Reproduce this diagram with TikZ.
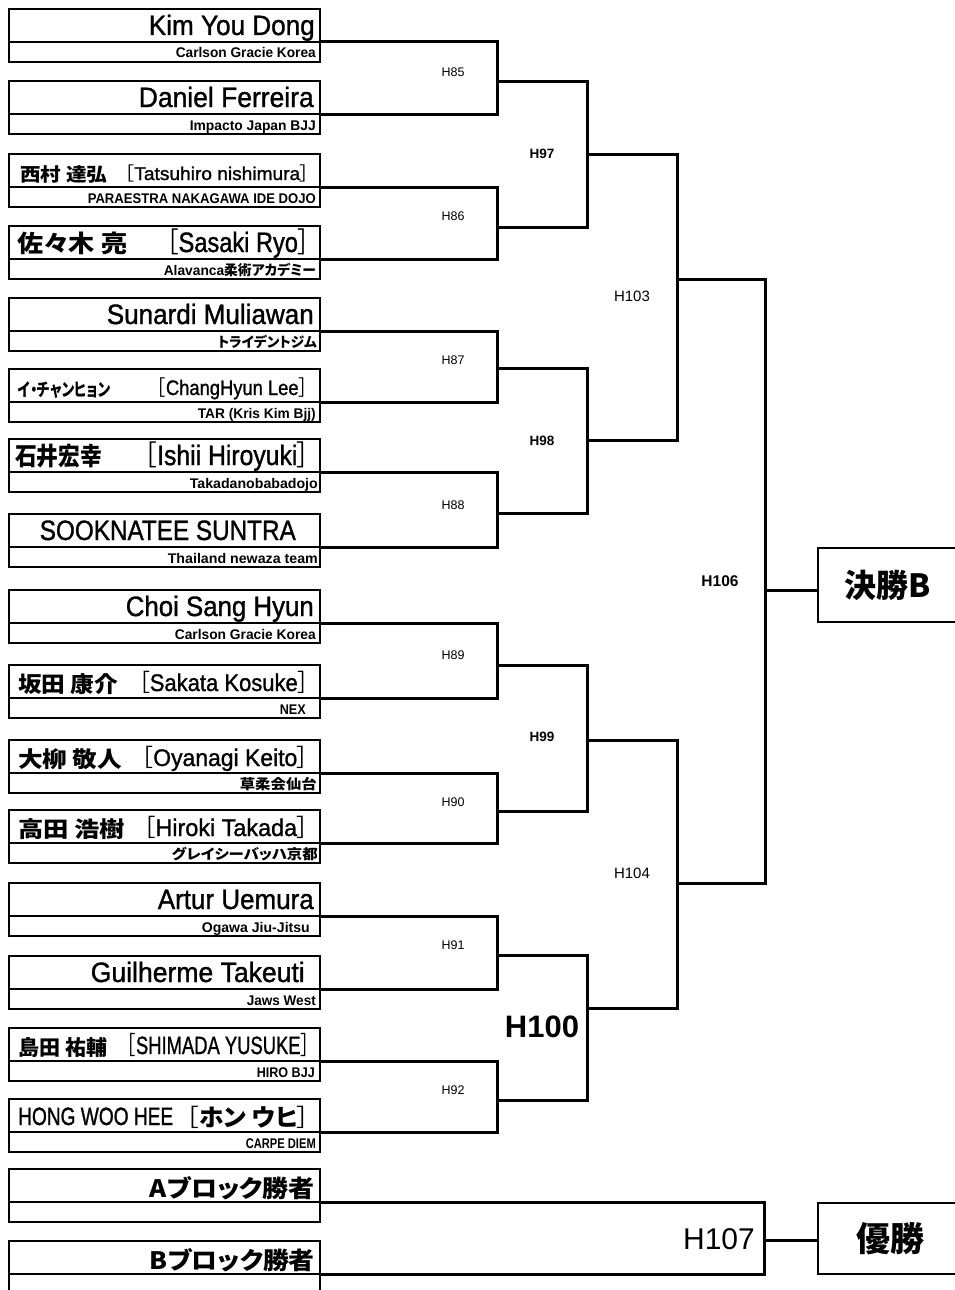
\documentclass[tikz,border=0pt]{standalone}
\usepackage{fontspec}
\usepackage{graphicx}
\setmainfont{Liberation Sans}
\newfontfamily\lat[FakeBold=1.2]{Liberation Sans}
\newfontfamily\jp[RawFeature=+palt]{Noto Sans CJK JP}
\newcommand\fitw[2]{\resizebox{#1pt}{\height}{#2}}
\newcommand\fsz[1]{\fontsize{#1}{#1}\selectfont}
\begin{document}
\begin{tikzpicture}[x=1pt,y=-1pt,
  boxln/.style={line width=2.6pt},
  midln/.style={line width=2.4pt},
  br/.style={line width=3pt, line join=miter},
  nmL/.style={anchor=base east, inner sep=0pt, font=\lat\fsz{28}},
  nmW/.style={anchor=base west, inner sep=0pt},
  nmE/.style={anchor=base east, inner sep=0pt},
  jpn/.style={anchor=base west, inner sep=0pt},
  cl/.style={anchor=base east, inner sep=0pt, font=\bfseries\fsz{14}},
  lb/.style={inner sep=0pt, font=\fsz{12.5}},
  lbm/.style={inner sep=0pt, font=\fsz{15}},
  lbb/.style={inner sep=0pt, font=\bfseries\fsz{13.5}},
  fin/.style={draw, line width=2.6pt, outer sep=0pt, inner sep=0pt, minimum width=140pt, font=\jp\bfseries}
]
\useasboundingbox (0,0) rectangle (954,1290);

% entry boxes
\foreach \m [count=\i] in {42,114,187,259,331,402,472,547,623,698,773,843,916,989,1061,1132,1202,1274}{
  \draw[boxln] (9,\m-33) rectangle (320,\m+20);
  \draw[midln] (9,\m) -- (320,\m);
  \coordinate (e\i) at (320,\m);
}

% names and clubs
\node[nmL] (n1) at (315,35) {\fitw{166}{Kim You Dong}};
\node[cl] (c1) at (316,58) {\fitw{140}{Carlson Gracie Korea}};

\node[nmL] (n2) at (314,107) {\fitw{175}{Daniel Ferreira}};
\node[cl] (c2) at (316,130) {\fitw{126}{Impacto Japan BJJ}};

\node[jpn, font=\jp\bfseries\fsz{18.5}] (j3) at (20,181) {\fitw{87}{西村 達弘}};
\node[nmE, font=\lat\fsz{18.5}] (n3) at (310,180) {\fitw{185}{{\jp ［}Tatsuhiro nishimura{\jp ］}}};
\node[cl] (c3) at (316,203) {\fitw{228}{PARAESTRA NAKAGAWA IDE DOJO}};

\node[jpn, font=\jp\bfseries\fsz{24}] (j4) at (17,252) {\fitw{110}{佐々木 亮}};
\node[nmE, font=\lat\fsz{28}] (n4) at (310,252) {\fitw{143}{{\jp ［}Sasaki Ryo{\jp ］}}};
\node[cl] (c4) at (316,275) {\fitw{152}{Alavanca{\jp\bfseries 柔術アカデミー}}};

\node[nmL] (n5) at (314,324) {\fitw{207}{Sunardi Muliawan}};
\node[cl] (c5) at (317,347) {\fitw{99}{{\jp\bfseries トライデントジム}}};

\node[jpn, font=\jp\bfseries\fsz{18}] (j6) at (18,396) {\fitw{92}{イ・チャンヒョン}};
\node[nmE, font=\lat\fsz{21}] (n6) at (308,395) {\fitw{151}{{\jp ［}ChangHyun Lee{\jp ］}}};
\node[cl] (c6) at (316,418) {\fitw{118}{TAR (Kris Kim Bjj)}};

\node[jpn, font=\jp\bfseries\fsz{25}] (j7) at (15,465) {\fitw{87}{石井宏幸}};
\node[nmE, font=\lat\fsz{28}] (n7) at (310,465) {\fitw{165}{{\jp ［}Ishii Hiroyuki{\jp ］}}};
\node[cl] (c7) at (318,488) {\fitw{128}{Takadanobabadojo}};

\node[nmL] (n8) at (296,540) {\fitw{256}{SOOKNATEE SUNTRA}};
\node[cl] (c8) at (318,563) {\fitw{150}{Thailand newaza team}};

\node[nmL] (n9) at (314,616) {\fitw{188}{Choi Sang Hyun}};
\node[cl] (c9) at (316,639) {\fitw{141}{Carlson Gracie Korea}};

\node[jpn, font=\jp\bfseries\fsz{22}] (j10) at (18,692) {\fitw{100}{坂田 康介}};
\node[nmE, font=\lat\fsz{24}] (n10) at (309,691) {\fitw{170}{{\jp ［}Sakata Kosuke{\jp ］}}};
\node[cl] (c10) at (306,714) {\fitw{26}{NEX}};

\node[jpn, font=\jp\bfseries\fsz{22}] (j11) at (18,767) {\fitw{104}{大柳 敬人}};
\node[nmE, font=\lat\fsz{24}] (n11) at (309,766) {\fitw{167}{{\jp ［}Oyanagi Keito{\jp ］}}};
\node[cl] (c11) at (317,789) {\fitw{77}{{\jp\bfseries 草柔会仙台}}};

\node[jpn, font=\jp\bfseries\fsz{22}] (j12) at (18,837) {\fitw{107}{高田 浩樹}};
\node[nmE, font=\lat\fsz{24}] (n12) at (309,836) {\fitw{165}{{\jp ［}Hiroki Takada{\jp ］}}};
\node[cl] (c12) at (318,859) {\fitw{146}{{\jp\bfseries グレイシーバッハ京都}}};

\node[nmL] (n13) at (314,909) {\fitw{156}{Artur Uemura}};
\node[cl] (c13) at (310,932) {\fitw{108}{Ogawa Jiu-Jitsu}};

\node[nmL] (n14) at (305,982) {\fitw{214}{Guilherme Takeuti}};
\node[cl] (c14) at (316,1005) {\fitw{69}{Jaws West}};

\node[jpn, font=\jp\bfseries\fsz{21}] (j15) at (18,1055) {\fitw{89}{島田 祐輔}};
\node[nmE, font=\lat\fsz{25}] (n15) at (310,1054) {\fitw{183}{{\jp ［}SHIMADA YUSUKE{\jp ］}}};
\node[cl] (c15) at (315,1077) {\fitw{58}{HIRO BJJ}};

\node[nmW, font=\lat\fsz{25}] (n16a) at (18,1125) {\fitw{155}{HONG WOO HEE}};
\node[nmE, font=\jp\fsz{24}] (n16) at (310,1126) {\fitw{123}{［{\bfseries ホン ウヒ}］}};
\node[cl] (c16) at (316,1148) {\fitw{70}{CARPE DIEM}};

\node[nmE, font=\jp\bfseries\fsz{24}] (n17) at (315,1197) {\fitw{165}{Aブロック勝者}};
\node[nmE, font=\jp\bfseries\fsz{24}] (n18) at (315,1269) {\fitw{165}{Bブロック勝者}};

% bracket joints
\coordinate (w85) at (497,81);
\coordinate (w86) at (497,227);
\coordinate (w87) at (497,368);
\coordinate (w88) at (497,513);
\coordinate (w89) at (497,665);
\coordinate (w90) at (497,811);
\coordinate (w91) at (497,955);
\coordinate (w92) at (497,1100);
\coordinate (w97) at (587,154);
\coordinate (w98) at (587,440);
\coordinate (w99) at (587,740);
\coordinate (w100) at (587,1008);
\coordinate (w103) at (677,279);
\coordinate (w104) at (677,883);
\coordinate (w106) at (765,590);
\coordinate (w107) at (764,1240);

% final boxes
\node[fin, minimum height=74pt, font=\jp\bfseries\fsz{32}] (kB) at (888,585) {決勝B};
\node[fin, minimum height=71pt, font=\jp\bfseries\fsz{34}] (yu) at (888,1238.5) {\hspace{4pt}優勝};

% brackets
\draw[br] (e1) -| (w85) |- (e2);
\draw[br] (e3) -| (w86) |- (e4);
\draw[br] (e5) -| (w87) |- (e6);
\draw[br] (e7) -| (w88) |- (e8);
\draw[br] (e9) -| (w89) |- (e10);
\draw[br] (e11) -| (w90) |- (e12);
\draw[br] (e13) -| (w91) |- (e14);
\draw[br] (e15) -| (w92) |- (e16);
\draw[br] (w85) -| (w97) |- (w86);
\draw[br] (w87) -| (w98) |- (w88);
\draw[br] (w89) -| (w99) |- (w90);
\draw[br] (w91) -| (w100) |- (w92);
\draw[br] (w97) -| (w103) |- (w98);
\draw[br] (w99) -| (w104) |- (w100);
\draw[br] (w103) -| (w106) |- (w104);
\draw[br] (w106) -- (kB.west |- w106);
\draw[br] (e17) -| (w107) |- (e18);
\draw[br] (w107) -- (yu.west |- w107);

% match labels
\node[lb] (l85) at (453,72) {H85};
\node[lb] (l86) at (453,216) {H86};
\node[lb] (l87) at (453,360) {H87};
\node[lb] (l88) at (453,505) {H88};
\node[lb] (l89) at (453,655) {H89};
\node[lb] (l90) at (453,802) {H90};
\node[lb] (l91) at (453,945) {H91};
\node[lb] (l92) at (453,1090) {H92};
\node[lbb] (l97) at (542,154) {H97};
\node[lbb] (l98) at (542,441) {H98};
\node[lbb] (l99) at (542,737) {H99};
\node[inner sep=0pt, font=\bfseries\fsz{31}] (l100) at (542,1027) {H100};
\node[lbm] (l103) at (632,296) {H103};
\node[lbm] (l104) at (632,873) {H104};
\node[inner sep=0pt, font=\bfseries\fsz{15.5}] (l106) at (720,581) {H106};
\node[inner sep=0pt, anchor=east, font=\fsz{30}] (l107) at (755,1239) {H107};
\end{tikzpicture}
\end{document}
